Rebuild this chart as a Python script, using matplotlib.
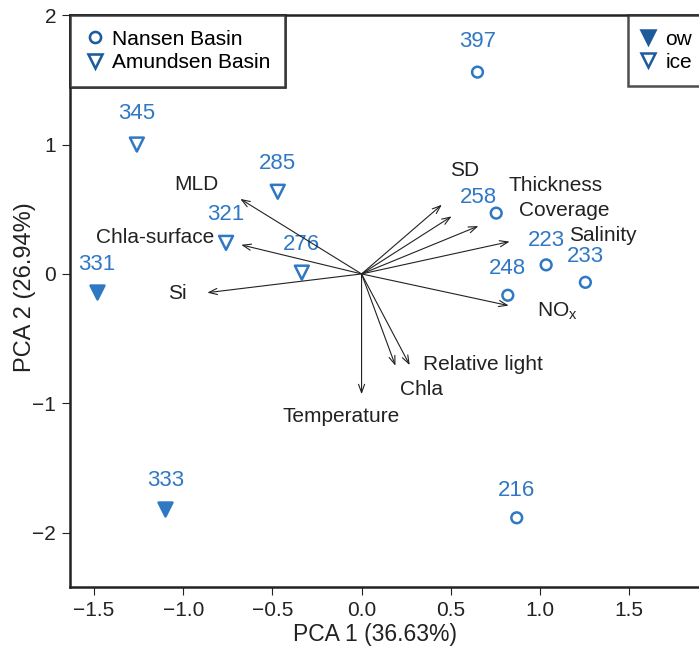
import matplotlib
matplotlib.use("Agg")
import matplotlib.pyplot as plt
from matplotlib.lines import Line2D

plt.rcParams['font.family'] = ['Liberation Sans', 'DejaVu Sans']

# sample scores
station = ['397', '345', '285', '321', '276', '331', '333', '258', '223', '233', '248', '216']
pc1 = [0.65, -1.26, -0.47, -0.76, -0.335, -1.485, -1.10, 0.755, 1.035, 1.255, 0.82, 0.87]
pc2 = [1.56, 1.00, 0.635, 0.24, 0.01, -0.14, -1.82, 0.47, 0.07, -0.065, -0.165, -1.885]
basin = ['N', 'A', 'A', 'A', 'A', 'A', 'A', 'N', 'N', 'N', 'N', 'N']
cover = ['ice', 'ice', 'ice', 'ice', 'ice', 'ow', 'ow', 'ice', 'ice', 'ice', 'ice', 'ice']

# loadings
var_names = ['MLD', 'Chla-surface', 'Si', 'SD', 'Thickness', 'Coverage', 'Salinity',
             'NO$_\\mathregular{x}$', 'Chla', 'Relative light', 'Temperature']
load1 = [-0.68, -0.675, -0.865, 0.45, 0.505, 0.655, 0.83, 0.825, 0.19, 0.27, 0.0]
load2 = [0.58, 0.225, -0.145, 0.535, 0.445, 0.37, 0.25, -0.245, -0.71, -0.705, -0.93]

blue = '#2f78c4'
dark = '#1d5b9c'
ink = '#222222'

fig = plt.figure(figsize=(6.99, 6.52), dpi=100)
ax = fig.add_axes([0.1001, 0.0997, 0.93, 0.877])

# point labels offsets (data units)
lab_dx = [0, 0, 0, 0, 0, 0, 0, -0.10, 0, 0, 0, 0]
lab_dy = [0.24, 0.24, 0.22, 0.22, 0.22, 0.21, 0.22, 0.12, 0.19, 0.20, 0.21, 0.21]

for i in range(len(station)):
    mk = 'o' if basin[i] == 'N' else 'v'
    fc = blue if cover[i] == 'ow' else 'none'
    ax.scatter(pc1[i], pc2[i], marker=mk, s=100 if mk == 'v' else 60,
               facecolors=fc, edgecolors=blue, linewidths=1.8, zorder=3)
    ax.text(pc1[i] + lab_dx[i], pc2[i] + lab_dy[i], station[i], color=blue,
            fontsize=16, ha='center', va='center')

# variable label positions
vlx = [-0.925, -1.16, -1.035, 0.58, 1.09, 1.135, 1.355, 1.10, 0.335, 0.68, -0.115]
vly = [0.69, 0.28, -0.15, 0.80, 0.68, 0.49, 0.30, -0.29, -0.89, -0.70, -1.10]

for i in range(len(var_names)):
    ax.annotate('', xy=(load1[i], load2[i]), xytext=(0, 0),
                arrowprops=dict(arrowstyle='->,head_length=0.6,head_width=0.22',
                                color=ink, lw=0.8, shrinkA=0, shrinkB=0))
    ax.text(vlx[i], vly[i], var_names[i], fontsize=15, ha='center', va='center',
            color=ink)

ax.set_xlim(-1.635, 2.01)
ax.set_ylim(-2.42, 2.0)
ax.set_xticks([-1.5, -1.0, -0.5, 0.0, 0.5, 1.0, 1.5])
ax.set_xticklabels(['\u22121.5', '\u22121.0', '\u22120.5', '0.0', '0.5', '1.0', '1.5'])
ax.set_yticks([-2, -1, 0, 1, 2])
ax.set_yticklabels(['\u22122', '\u22121', '0', '1', '2'])
ax.tick_params(labelsize=15, length=6, width=0.8, colors=ink, pad=4)
ax.set_xlabel('PCA 1 (36.63%)', fontsize=16.5, color=ink)
ax.xaxis.set_label_coords(0.469, -0.063)
ax.set_ylabel('PCA 2 (26.94%)', fontsize=17, color=ink)
ax.yaxis.set_label_coords(-0.052, 0.524)
for sp in ax.spines.values():
    sp.set_linewidth(1.8)
    sp.set_color(ink)

h1 = [Line2D([], [], marker='o', ls='', mfc='none', mec=dark, mew=1.8, ms=8),
      Line2D([], [], marker='v', ls='', mfc='none', mec=dark, mew=1.8, ms=10)]
leg1 = ax.legend(h1, ['Nansen Basin', 'Amundsen Basin'], loc='upper left',
                 bbox_to_anchor=(0, 1), borderaxespad=0, fancybox=False,
                 edgecolor=ink, fontsize=15, handletextpad=0.3,
                 handlelength=1.0, labelspacing=0.2, borderpad=0.7)
leg1.get_frame().set_linewidth(1.8)
ax.add_artist(leg1)

h2 = [Line2D([], [], marker='v', ls='', mfc=dark, mec=dark, mew=1.8, ms=10),
      Line2D([], [], marker='v', ls='', mfc='none', mec=dark, mew=1.8, ms=10)]
leg2 = fig.legend(h2, ['ow', 'ice'], loc='upper left',
                  bbox_to_anchor=(628 / 699, 1 - 15 / 652),
                  borderaxespad=0, fancybox=False, edgecolor=ink, fontsize=15,
                  handletextpad=0.6, handlelength=0.5, labelspacing=0.2,
                  borderpad=0.7)
leg2.get_frame().set_linewidth(1.8)

fig.savefig('out.png', dpi=100)
